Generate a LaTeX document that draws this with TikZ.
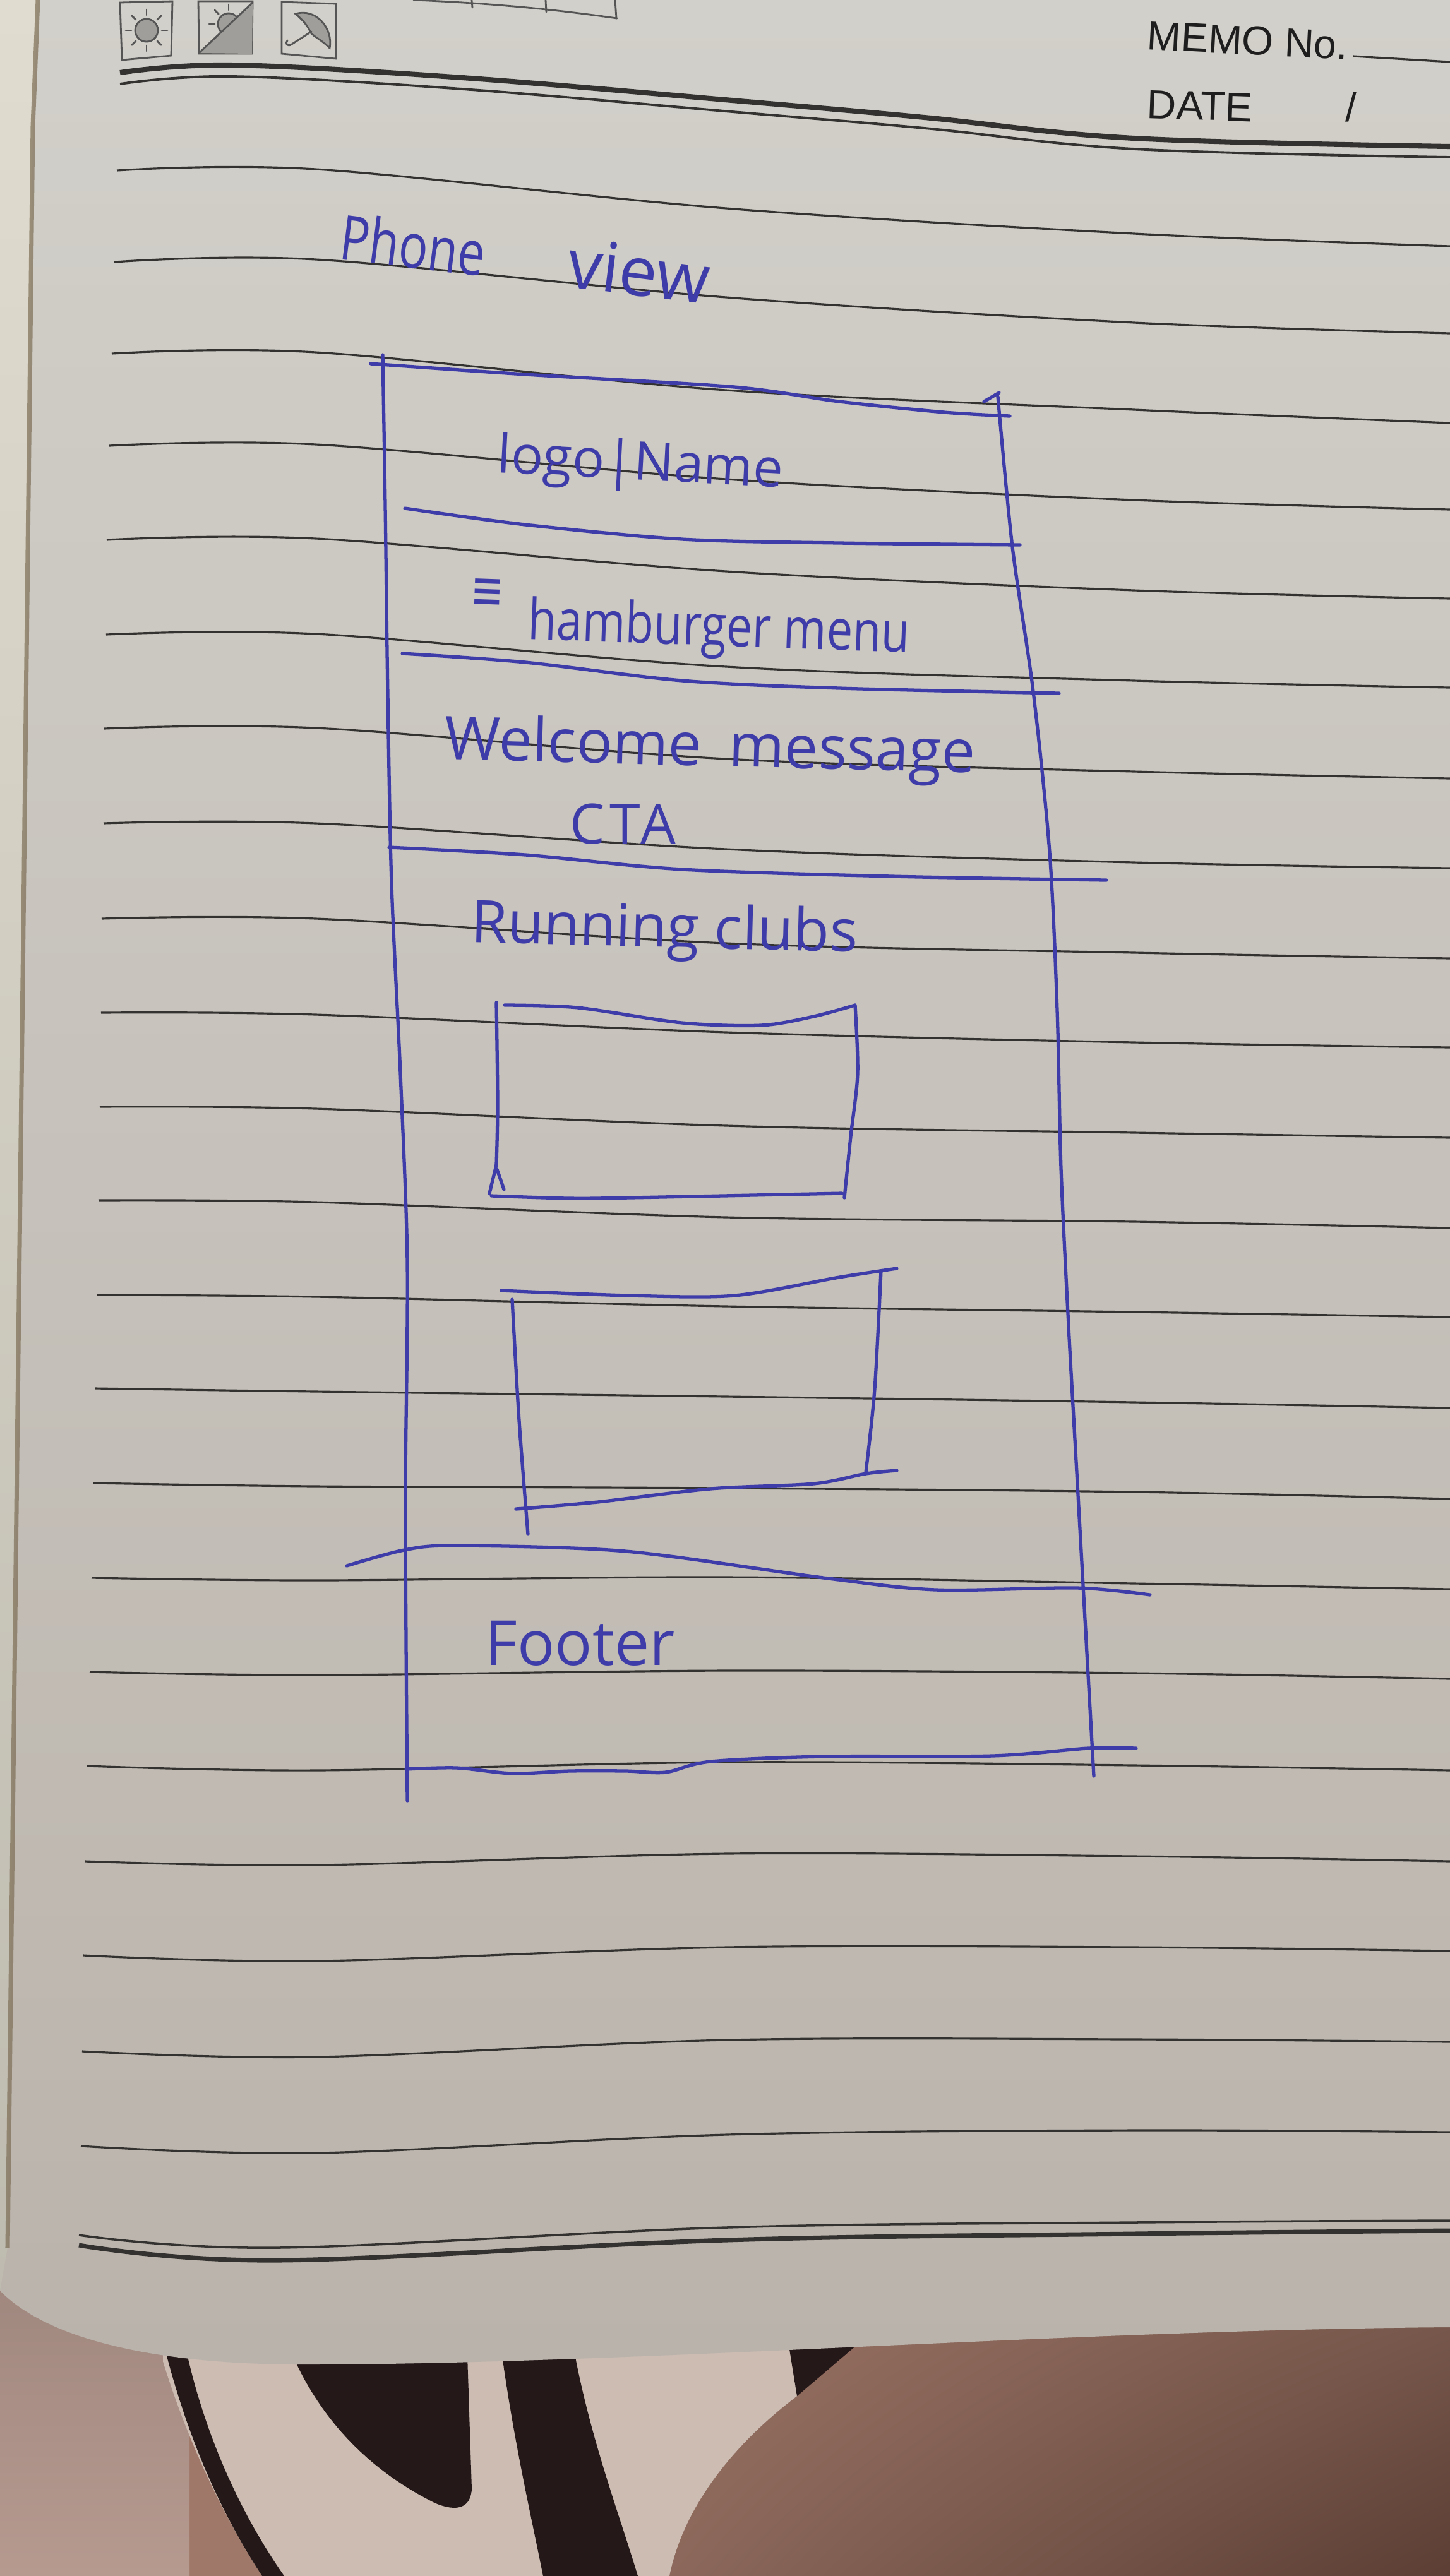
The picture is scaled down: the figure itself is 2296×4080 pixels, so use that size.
\documentclass[tikz,border=0pt]{standalone}
\usepackage{fontspec}
\usepackage{graphicx}
\newfontfamily\handfont{Open Sans}
\newfontfamily\printfont{Liberation Sans}
\newfontfamily\symfont{DejaVu Sans}
\usetikzlibrary{calc,shadings}

\definecolor{ink}{RGB}{62,60,168}
\definecolor{rulecol}{RGB}{52,50,48}
\definecolor{printcol}{RGB}{30,30,30}
\definecolor{iconcol}{RGB}{85,85,85}
\definecolor{iconfill}{RGB}{160,158,154}
\definecolor{papertop}{RGB}{210,208,202}
\definecolor{papermid}{RGB}{200,196,190}
\definecolor{paperbot}{RGB}{186,179,171}
\definecolor{stripcream}{RGB}{224,220,207}
\definecolor{guttercol}{RGB}{125,110,85}
\definecolor{fabric}{RGB}{160,120,105}
\definecolor{fabricdark}{RGB}{92,62,52}
\definecolor{fabricleft}{RGB}{182,154,144}
\definecolor{fabriclight}{RGB}{204,188,178}
\definecolor{fabricblack}{RGB}{36,24,24}

\begin{document}
\begin{tikzpicture}[x=0.01cm,y=-0.01cm,
  pen/.style={draw=ink, line width=1.5pt, line cap=round, line join=round},
  ruling/.style={draw=rulecol, line width=0.9pt},
  icon/.style={draw=iconcol, line width=0.8pt, line cap=round},
  hand/.style={text=ink, inner sep=0pt},
  print/.style={text=printcol, inner sep=0pt, font=\printfont\fontsize{18.3}{20}\selectfont}]

\useasboundingbox (0,0) rectangle (2296,4080);

% ---------- fabric under the notebook
\fill[fabric] (0,3500) rectangle (2296,4080);
\shade[upper left=fabric, upper right=fabric!82!black, lower left=fabric!88!black, lower right=fabricdark]
  (1000,3500) rectangle (2296,4080);
\shade[top color=fabricleft!85!black, bottom color=fabricleft] (0,3500) rectangle (300,4080);
\fill[fabriclight] (258,3650) -- (1260,3650) -- (1262,3795)
  .. controls (1150,3880) and (1080,3980) .. (1060,4080) -- (415,4080)
  .. controls (350,3980) and (295,3860) .. (258,3740) -- cycle;
\fill[fabricblack] (256,3700) -- (290,3700) .. controls (320,3850) and (380,3980) .. (450,4080)
  -- (415,4080) .. controls (350,3980) and (295,3860) .. (256,3700) -- cycle;
\fill[fabricblack] (469,3700) -- (739,3700) -- (747,3942)
  .. controls (745,3975) and (720,3978) .. (688,3964)
  .. controls (600,3920) and (520,3850) .. (469,3743) -- cycle;
\fill[fabricblack] (791,3700) -- (905,3700) .. controls (930,3850) and (980,3980) .. (1010,4080)
  -- (860,4080) .. controls (840,3980) and (810,3850) .. (791,3700) -- cycle;
\fill[fabricblack] (1245,3690) -- (1385,3690) -- (1262,3795) -- cycle;

% ---------- notebook page
\shade[top color=papertop, middle color=papermid, bottom color=paperbot]
  (0,0) -- (2296,0) -- (2296,3686)
  .. controls (1700,3690) and (1000,3745) .. (480,3745)
  .. controls (230,3745) and (70,3700) .. (0,3628) -- cycle;
\shade[top color=stripcream, bottom color=stripcream!85!black]
  (0,0) -- (60,0) -- (52,200) .. controls (40,1200) and (25,2500) .. (12,3560) -- (0,3628) -- cycle;
\draw[guttercol, line width=2pt, opacity=.7]
  (60,0) -- (52,200) .. controls (40,1200) and (25,2500) .. (12,3560);

% ---------- printed header: weather boxes
\draw[icon] (190,4) -- (273,2) -- (271,88) -- (193,95) -- cycle;
\fill[iconfill] (232,48) circle[radius=18];
\draw[icon] (232,48) circle[radius=18];
\foreach \a in {0,45,...,315}
  \draw[icon] ($(232,48)+(\a:24)$) -- ($(232,48)+(\a:33)$);

\draw[icon] (314,2) -- (400,2) -- (399,85) -- (315,85) -- cycle;
\fill[iconfill] (315,84) -- (400,4) -- (399,85) -- cycle;
\fill[iconfill] ($(362,38)+(137:17)$) arc[start angle=137, end angle=317, radius=17] -- cycle;
\draw[icon] ($(362,38)+(137:17)$) arc[start angle=137, end angle=317, radius=17];
\foreach \a in {180,225,270}
  \draw[icon] ($(362,38)+(\a:22)$) -- ($(362,38)+(\a:31)$);
\draw[icon] (315,84) -- (400,4);

\draw[icon] (446,3) -- (532,6) -- (532,93) -- (446,85) -- cycle;
\draw[icon, fill=iconfill] (468,22) .. controls (500,12) and (528,45) .. (522,76)
  .. controls (510,64) and (500,60) .. (492,52) .. controls (488,42) and (480,32) .. (468,22) -- cycle;
\draw[icon] (493,50) -- (462,70) .. controls (455,75) and (451,69) .. (455,64);

% ---------- printed header: day boxes, memo and date
\draw[icon] (655,0) .. controls (800,6) and (900,18) .. (977,29);
\draw[icon] (747,0) -- (748,12);
\draw[icon] (864,0) -- (865,19);
\draw[icon] (974,0) -- (976,29);

\node[print, anchor=base west, rotate=-3] (memo) at (1815,78) {MEMO No.};
\coordinate (memoline) at (2296,98);
\draw[rulecol, line width=0.9pt] (2143,89) -- (memoline);
\node[print, anchor=base west, rotate=-2] (date) at (1815,187) {DATE};
\node[print, anchor=base west] (slash) at (2130,192) {/};

% ---------- ruled lines of the page
\foreach \xl/\yl/\ya/\yb/\yc/\yr in {
  185/270/268/330/370/390, 181/415/411/471/511/528, 177/560/558/618/649/670,
  173/706/704/759/792/807, 169/855/853/905/935/948, 168/1005/1004/1056/1078/1089,
  165/1154/1153/1202/1222/1233, 164/1304/1304/1345/1366/1375, 161/1455/1455/1494/1509/1518,
  160/1604/1607/1635/1651/1659, 158/1753/1756/1783/1794/1802, 156/1901/1904/1928/1935/1945,
  153/2051/2054/2069/2078/2086, 151/2199/2204/2212/2221/2230, 148/2349/2354/2357/2363/2374,
  145/2499/2503/2498/2508/2517, 142/2648/2653/2646/2650/2659, 138/2797/2804/2791/2796/2804,
  135/2948/2954/2936/2940/2948, 132/3097/3106/3084/3084/3090, 130/3249/3258/3231/3230/3234,
  128/3399/3410/3381/3374/3377}
  \draw[ruling] plot[smooth, tension=0.55] coordinates {(\xl,\yl) (500,\ya) (1150,\yb) (1796,\yc) (2296,\yr)};

% double rule at the top of the page
\draw[rulecol, line width=2.3pt] plot[smooth, tension=0.6] coordinates
  {(190,115) (366,103) (732,123) (1171,160) (1464,186) (1796,219) (2296,232)};
\draw[rulecol, line width=1.1pt] plot[smooth, tension=0.6] coordinates
  {(190,133) (366,121) (732,141) (1171,178) (1464,203) (1796,236) (2296,249)};

% double rule at the foot of the page
\draw[rulecol, line width=1pt] plot[smooth, tension=0.6] coordinates
  {(125,3540) (440,3560) (1150,3528) (1796,3520) (2296,3517)};
\draw[rulecol, line width=2pt] plot[smooth, tension=0.6] coordinates
  {(125,3556) (440,3580) (1150,3548) (1796,3538) (2296,3533)};

% ---------- pen sketch: phone wireframe
\node[hand, anchor=base west, rotate=-7, font=\handfont\fontsize{28}{30}\selectfont]
  (title) at (535,410) {\scalebox{0.78}[1]{Phone}\hspace{1.35em}\scalebox{1.1}{view}};

% outer frame
\draw[pen] plot[smooth, tension=0.5] coordinates
  {(606,562) (610,800) (614,1100) (620,1400) (634,1700) (645,2000) (642,2350) (643,2600) (645,2852)};
\draw[pen] plot[smooth, tension=0.5] coordinates
  {(587,576) (832,593) (1163,613) (1329,636) (1495,653) (1599,659)};
\draw[pen] (1558,636) -- (1582,622);
\draw[pen] plot[smooth, tension=0.5] coordinates
  {(1580,628) (1603,866) (1636,1095) (1662,1350) (1674,1600) (1680,1850)
   (1692,2100) (1706,2350) (1720,2600) (1732,2813)};

% section dividers
\draw[pen] plot[smooth, tension=0.5] coordinates
  {(641,805) (832,831) (1080,854) (1329,860) (1615,863)};
\draw[pen] plot[smooth, tension=0.5] coordinates
  {(637,1035) (832,1049) (1080,1078) (1329,1090) (1677,1098)};
\draw[pen] plot[smooth, tension=0.5] coordinates
  {(616,1342) (832,1354) (1080,1377) (1412,1388) (1752,1394)};
\draw[pen] plot[smooth, tension=0.5] coordinates
  {(549,2480) (640,2455) (723,2448) (991,2457) (1304,2499) (1482,2518) (1705,2515) (1821,2526)};
\draw[pen] plot[smooth, tension=0.5] coordinates
  {(643,2802) (723,2800) (812,2809) (902,2805) (991,2805) (1054,2807) (1125,2790)
   (1304,2782) (1571,2781) (1723,2769) (1799,2769)};

% club card 1
\draw[pen] plot[smooth, tension=0.5] coordinates
  {(799,1592) (915,1596) (1080,1620) (1205,1624) (1288,1610) (1354,1592)};
\draw[pen] plot[smooth, tension=0.5] coordinates {(786,1588) (788,1750) (786,1845)};
\draw[pen] (786,1845) -- (775,1890);
\draw[pen] (787,1852) -- (798,1884);
\draw[pen] plot[smooth, tension=0.5] coordinates {(1354,1592) (1358,1700) (1347,1800) (1337,1897)};
\draw[pen] plot[smooth, tension=0.5] coordinates {(778,1894) (900,1898) (997,1897) (1333,1890)};

% club card 2
\draw[pen] plot[smooth, tension=0.5] coordinates
  {(794,2044) (997,2052) (1163,2052) (1329,2023) (1420,2009)};
\draw[pen] plot[smooth, tension=0.5] coordinates {(811,2058) (822,2250) (836,2430)};
\draw[pen] plot[smooth, tension=0.5] coordinates {(1395,2013) (1385,2200) (1371,2332)};
\draw[pen] plot[smooth, tension=0.5] coordinates
  {(817,2390) (946,2379) (1125,2358) (1288,2350) (1371,2334) (1420,2329)};

% section labels
\node[hand, anchor=base west, rotate=-3, font=\handfont\fontsize{24}{26}\selectfont]
  (logo) at (786,748) {logo|Name};
\node[hand, anchor=base west, rotate=-2, font=\handfont\fontsize{25.5}{28}\selectfont]
  (menu) at (742,1009) {\raisebox{0.5em}{\symfont\scalebox{0.7}[1]{≡}}\hspace{0.45em}\scalebox{0.82}[1]{hamburger menu}};
\node[hand, anchor=base west, rotate=-1.5, font=\handfont\fontsize{27}{30}\selectfont]
  (welcome) at (703,1202) {Welcome\hspace{0.45em}message};
\node[hand, anchor=base west, font=\handfont\fontsize{25}{28}\selectfont\addfontfeatures{LetterSpace=8}]
  (cta) at (902,1336) {CTA};
\node[hand, anchor=base west, rotate=-1.5, font=\handfont\fontsize{26.5}{29}\selectfont]
  (clubs) at (745,1492) {Running clubs};
\node[hand, anchor=base west, font=\handfont\fontsize{28}{30}\selectfont]
  (footer) at (768,2637) {Footer};

\end{tikzpicture}
\end{document}
